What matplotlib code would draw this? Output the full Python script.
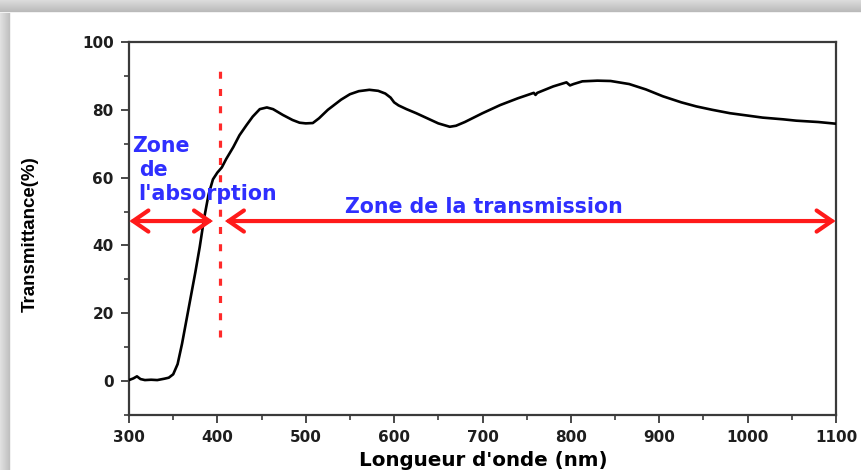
import numpy as np
import matplotlib
matplotlib.use("Agg")
import matplotlib.pyplot as plt
from matplotlib.patches import FancyArrowPatch
from matplotlib.ticker import MultipleLocator

# ---- data ----
wavelength = [300, 305, 309, 313, 318, 325, 332, 340, 345, 350, 355, 360, 365, 370,
              375, 380, 385, 390, 395, 400, 405, 410, 418, 425, 433, 440, 448, 456,
              463, 474, 485, 493, 500, 508, 515, 525, 531, 540, 550, 560, 572, 582,
              590, 596, 600, 605, 614, 625, 640, 650, 663, 670, 680, 700, 720, 740,
              758, 760, 762, 780, 795, 799, 803, 813, 830, 845, 866, 885, 904, 925,
              942, 960, 980, 1000, 1017, 1040, 1055, 1080, 1100]
transmittance = [0.3, 0.8, 1.4, 0.6, 0.3, 0.4, 0.3, 0.7, 1.0, 2.0, 5.0, 11.0, 18.0, 25.0,
                 32.0, 39.5, 48.0, 55.0, 59.5, 61.5, 63.0, 65.5, 69.0, 72.5, 75.5, 78.0, 80.2, 80.7,
                 80.2, 78.5, 77.0, 76.2, 76.0, 76.1, 77.5, 80.0, 81.2, 83.0, 84.6, 85.5, 85.9, 85.6,
                 84.8, 83.6, 82.2, 81.3, 80.2, 79.0, 77.2, 76.0, 75.0, 75.3, 76.4, 79.0, 81.4, 83.4,
                 85.0, 84.4, 85.0, 86.9, 88.1, 87.2, 87.6, 88.4, 88.6, 88.5, 87.6, 86.0, 84.0, 82.2,
                 81.0, 80.0, 79.0, 78.3, 77.7, 77.2, 76.8, 76.4, 75.9]

x_ticks = [300, 400, 500, 600, 700, 800, 900, 1000, 1100]
y_ticks = [0, 20, 40, 60, 80, 100]
boundary_nm = 403
arrow_level = 47.2
dashed_span = (13, 94.5)
absorption_label = ["Zone", "de", "l'absorption"]
transmission_label = "Zone de la transmission"
x_label = "Longueur d'onde (nm)"
y_label = "Transmittance(%)"

W, H = 861, 470
fig = plt.figure(figsize=(W / 100, H / 100), dpi=100)
fig.patch.set_facecolor("white")

# decorative gray frame (top and left shadow bands)
top = np.ones((13, W, 3))
levels_top = np.linspace(0.86, 0.72, 13)
levels_top[-1] = 0.95
for i, v in enumerate(levels_top):
    top[i, :, :] = v
fig.figimage(top, xo=0, yo=H - 13, origin="upper", zorder=0)
left = np.ones((H - 13, 11, 3))
levels_left = np.linspace(0.88, 0.74, 11)
levels_left[-1] = 0.95
for j, v in enumerate(levels_left):
    left[:, j, :] = v
fig.figimage(left, xo=0, yo=0, origin="upper", zorder=0)

ax = fig.add_axes([129 / W, 1 - 415 / H, (836 - 129) / W, (415 - 42) / H])
ax.set_facecolor("white")

ax.plot(wavelength, transmittance, color="black", lw=1.9, zorder=3)

ax.set_xlim(300, 1100)
ax.set_ylim(-10, 100)
ax.set_xticks(x_ticks)
ax.set_yticks(y_ticks)
ax.xaxis.set_minor_locator(MultipleLocator(50))
ax.yaxis.set_minor_locator(MultipleLocator(10))

for s in ax.spines.values():
    s.set_linewidth(1.6)
    s.set_color("#3a3a3a")

tick_font = dict(family="DejaVu Sans", weight="bold", size=11)
ax.tick_params(which="major", direction="out", length=6, width=1.3, color="#3a3a3a", pad=5)
ax.tick_params(which="minor", direction="out", length=3.5, width=1.2, color="#3a3a3a")
ax.tick_params(top=False, right=False, which="both")
for lab in ax.get_xticklabels() + ax.get_yticklabels():
    lab.set_fontproperties(matplotlib.font_manager.FontProperties(**tick_font))
    lab.set_color("#1e1e1e")

fig.text(483.5 / W, 1 - 466 / H, x_label, ha="center", va="baseline",
         family="DejaVu Sans", weight="bold", fontsize=14.3, color="black")
fig.text(30 / W, 1 - 234 / H, y_label, ha="center", va="center", rotation=90,
         family="Liberation Sans", weight="bold", fontsize=13.5, color="black")

# boundary dashed line
ax.plot([boundary_nm, boundary_nm], list(dashed_span), color="#ff2a2a", lw=2.3,
        linestyle=(0, (2.2, 3.2)), zorder=2)

# arrows
def double_arrow(x0, x1):
    a = FancyArrowPatch((x0, arrow_level), (x1, arrow_level),
                        arrowstyle="<->,head_length=0.55,head_width=0.38",
                        mutation_scale=20, lw=3, color="#ff1a1a",
                        shrinkA=0, shrinkB=0, zorder=4, joinstyle="miter")
    ax.add_patch(a)

double_arrow(300.5, 395)
double_arrow(408.6, 1099.5)

txt = dict(family="DejaVu Sans", weight="bold", fontsize=14.8, color="#2f2fff", zorder=5)
ax.text(303.5, 67.5, absorption_label[0], ha="left", va="baseline", **txt)
ax.text(311.5, 60.4, absorption_label[1], ha="left", va="baseline", **txt)
ax.text(310.5, 53.3, absorption_label[2], ha="left", va="baseline", **txt)
ax.text(544.5, 49.7, transmission_label, ha="left", va="baseline", **txt)

fig.savefig("out.png", dpi=100, facecolor="white")
